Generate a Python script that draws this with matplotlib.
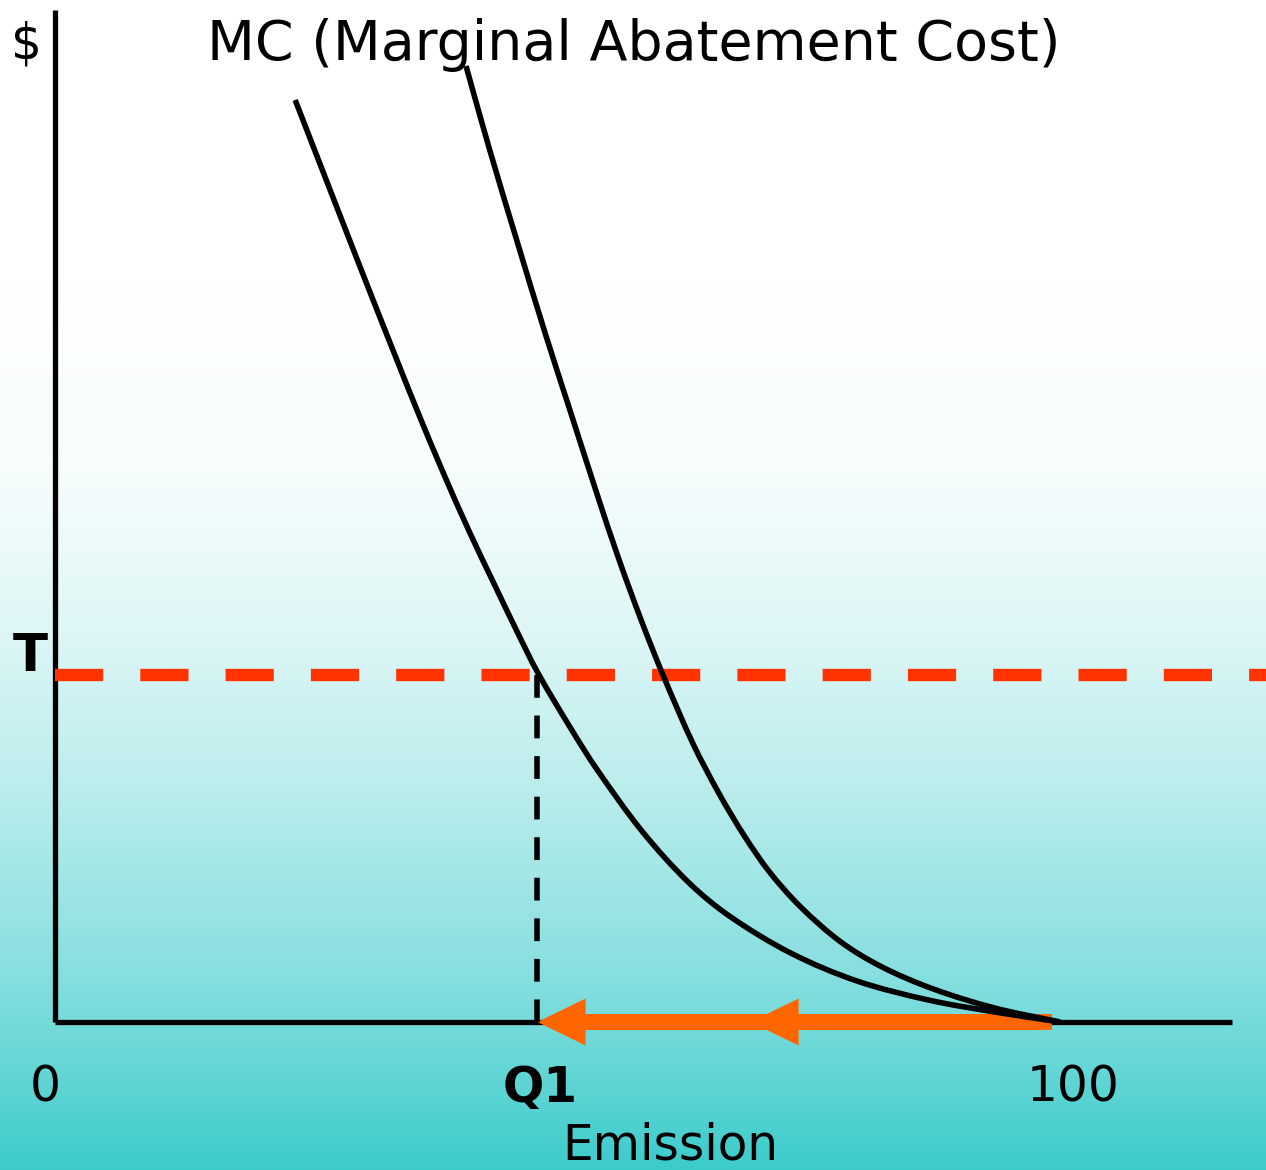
import numpy as np
import matplotlib
matplotlib.use("Agg")
import matplotlib.pyplot as plt
from matplotlib.path import Path
from matplotlib.patches import PathPatch

# marginal abatement cost curves (emission -> $)
mc_low_x = [23.9, 28.5, 31.3, 34.1, 36.1, 38.6, 41.2, 43.7, 46.0, 48.0, 51.3, 53.9,
            58.4, 63.0, 67.1, 73.2, 79.8, 86.9, 93.5, 100.0]
mc_low_y = [92.2, 80.3, 73.1, 66.0, 61.0, 55.0, 49.1, 43.8, 39.0, 35.0, 29.4, 25.3,
            19.1, 14.0, 10.6, 6.9, 4.1, 2.2, 1.0, 0.0]
mc_high_x = [40.9, 43.2, 46.0, 48.8, 51.3, 53.9, 56.1, 58.4, 60.5, 63.5, 66.1, 68.6,
             71.1, 74.2, 78.2, 82.3, 87.4, 93.5, 100.0]
mc_high_y = [95.6, 87.4, 78.0, 68.8, 61.0, 52.9, 46.3, 40.0, 34.7, 27.8, 22.8, 18.6,
             15.0, 11.5, 8.0, 5.5, 3.3, 1.4, 0.0]

tax_T = 34.7        # tax level T
q1 = 48.0           # emission where MC meets T
e_max = 100.0
arrow_tail = 99.2
arrow_mid = 69.2

x_ticks = [0, q1, e_max]
x_tick_labels = ["0", "Q1", "100"]

plt.rcParams["font.family"] = ["DejaVu Sans"]


def smooth_path(xs, ys):
    # chord-length Catmull-Rom through the points, as cubic Bezier segments
    p = np.column_stack([xs, ys]).astype(float)
    d = np.hypot(*np.diff(p, axis=0).T)
    n = len(p)
    m = np.zeros_like(p)
    m[0] = (p[1] - p[0]) / d[0]
    m[-1] = (p[-1] - p[-2]) / d[-1]
    for i in range(1, n - 1):
        m[i] = (p[i + 1] - p[i - 1]) / (d[i - 1] + d[i])
    verts = [p[0]]
    codes = [Path.MOVETO]
    for i in range(n - 1):
        verts += [p[i] + m[i] * d[i] / 3, p[i + 1] - m[i + 1] * d[i] / 3, p[i + 1]]
        codes += [Path.CURVE4] * 3
    return Path(verts, codes)


fig = plt.figure(figsize=(12.66, 11.70), dpi=100)
ax = fig.add_axes([0, 0, 1, 1])
xlim = (-5.47, 120.5)
ylim = (-14.8, 102.2)
ax.set_xlim(*xlim)
ax.set_ylim(*ylim)
ax.axis("off")

# white -> teal background, darkening faster toward the bottom
rows = np.linspace(0, 1, 600)             # 0 = top, 1 = bottom
stop_pos = [0.0, 0.24, 0.40, 0.54, 0.68, 0.83, 0.94, 1.0]
stop_f = [0.0, 0.0, 0.04, 0.17, 0.36, 0.61, 0.85, 1.0]
f = np.interp(rows, stop_pos, stop_f)
top = np.array([255, 255, 255]) / 255
bot = np.array([60, 203, 203]) / 255
grad = (top[None, :] * (1 - f[:, None]) + bot[None, :] * f[:, None])[:, None, :]
ax.imshow(grad, extent=[xlim[0], xlim[1], ylim[0], ylim[1]], aspect="auto",
          origin="upper", zorder=0)

# axes
ax.plot([0, 0], [0, 101.2], color="black", lw=3.8, solid_capstyle="butt", zorder=2)
ax.plot([0, 117.1], [0, 0], color="black", lw=3.8, solid_capstyle="butt", zorder=2)

# tax line and Q1 drop line
ax.plot([0, xlim[1]], [tax_T, tax_T], color="#FF3300", lw=8.9,
        dashes=[3.9, 3.0], dash_capstyle="butt", zorder=3)
ax.plot([q1, q1], [tax_T, 0], color="black", lw=4.0,
        dashes=[4.1, 3.2], dash_capstyle="butt", zorder=6)

# arrows showing emission reduction
for tip in (q1, arrow_mid):
    ax.arrow(arrow_tail, 0, tip - arrow_tail, 0, width=1.6, head_width=4.7,
             head_length=4.8, length_includes_head=True, color="#FF6600",
             lw=0, zorder=4)

for xs, ys in ((mc_low_x, mc_low_y), (mc_high_x, mc_high_y)):
    ax.add_patch(PathPatch(smooth_path(xs, ys), facecolor="none", edgecolor="black",
                           lw=4.0, capstyle="butt", joinstyle="round", zorder=5))

ax.text(-2.8, 97.7, "$", fontsize=35, ha="center", va="center")
ax.text(57.6, 97.7, "MC (Marginal Abatement Cost)", fontsize=40, ha="center", va="center")
ax.text(-2.5, 36.5, "T", fontsize=37, fontweight="bold", ha="center", va="center")
for xv, lab in zip(x_ticks, x_tick_labels):
    ax.text(xv + (1.3 if lab == "100" else 0.3 if lab == "Q1" else -1.0), -6.6, lab,
            fontsize=35, fontweight="bold" if lab == "Q1" else "normal",
            ha="center", va="center")
ax.text(61.2, -12.3, "Emission", fontsize=35, ha="center", va="center")

fig.savefig("out.png", dpi=100)
